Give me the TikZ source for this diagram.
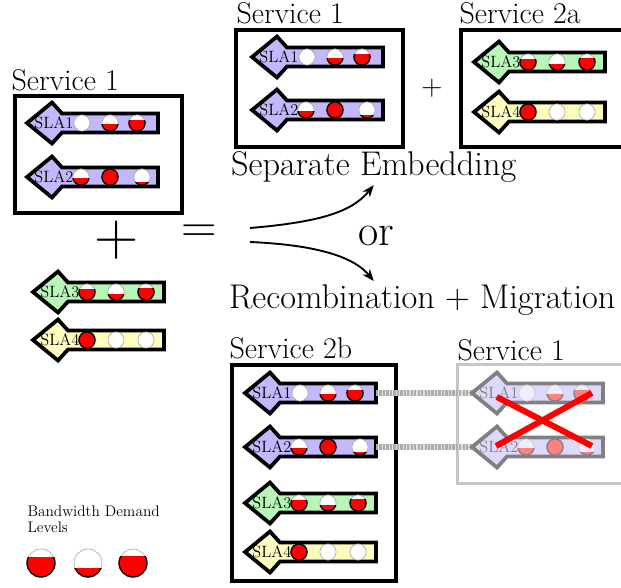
\documentclass[tikz,border=0pt]{standalone}
\usepackage{fontspec}
\usetikzlibrary{arrows.meta}

\definecolor{slapurple}{RGB}{196,184,252}
\definecolor{slagreen}{RGB}{184,246,184}
\definecolor{slayellow}{RGB}{255,253,190}
\colorlet{bwred}{red}
\colorlet{bwedge}{black}
\colorlet{bwgray}{black!35}
\colorlet{bwwhite}{white}
\colorlet{slaedge}{black}
\colorlet{slatext}{black}

\tikzset{every picture/.style={line width=0.75pt}}
\tikzset{
  service/.style={draw=black, line width=2.5pt},
  svclabel/.style={anchor=base west, inner sep=0pt, font=\fontsize{22.5}{27}\selectfont},
  biglabel/.style={anchor=base west, inner sep=2pt, font=\fontsize{25.7}{30}\selectfont},
  slabody/.style={draw=slaedge, line width=2.8pt, line join=miter},
  slalabel/.style={inner sep=0pt, text=slatext, font=\fontsize{12.3}{14}\selectfont},
  flow/.style={line width=1.4pt, -{Stealth[length=9pt,width=7pt]}},
  migrate/.style={line width=4.5pt, draw=black!13},
  migratedash/.style={line width=4.5pt, draw=black!32, dash pattern=on 1.7pt off 0.9pt},
}

% bandwidth demand level: [radius]{x}{y}{filled fraction}
\newcommand{\bwlevel}[4][8.1]{%
  \fill[bwwhite] (#2,#3) circle[radius=#1];
  \draw[bwgray, line width=0.5pt] (#2,#3) circle[radius=#1];
  \ifdim #4pt>0pt
    \begin{scope}
      \clip (#2-#1-2,#3+#1-2*#1*#4) rectangle (#2+#1+2,#3+#1+2);
      \fill[bwred] (#2,#3) circle[radius=#1];
      \draw[bwedge, line width=1pt] (#2,#3) circle[radius=#1];
    \end{scope}
  \fi
}

% SLA arrow: {name}{tip x}{y}{fill}{label}{offset/fraction list macro}
\newcommand{\slarow}[6]{%
  \draw[slabody, fill=#4] (#2,#3) -- ++(25,-20.5) -- ++(10,11) -- ++(96,0) -- ++(0,19) -- ++(-96,0) -- ++(-10,11) -- cycle;
  \coordinate (#1-tip) at (#2,#3);
  \coordinate (#1-end) at (#2+131,#3);
  \node[slalabel] (#1-lbl) at (#2+27,#3) {#5};
  \foreach \dx/\f in #6 {\bwlevel{#2+\dx}{#3}{\f}}
}

\newcommand{\lvlone}{55/0,83/0.4,110/0.67}
\newcommand{\lvltwo}{54/0.4,83/1,115/0.15}
\newcommand{\lvlthree}{54/0.67,83/0.33,113/0.7}
\newcommand{\lvlfour}{54/1,83/0,113/0}

\begin{document}
\begin{tikzpicture}[x=0.75pt,y=0.75pt,yscale=-1,xscale=1]
    \useasboundingbox (0,0) rectangle (621,587);
    \clip (0,0) rectangle (621,587);

    %Shape: Rectangle [Service 1, left]
    \draw[service] (15,96) rectangle (182,213);
    %Shape: Rectangle [Service 1, top]
    \draw[service] (236,30) rectangle (403,147);
    %Shape: Rectangle [Service 2a]
    \draw[service] (461,30) rectangle (640,147);
    %Shape: Rectangle [Service 2b]
    \draw[service] (232,365) rectangle (396,581);
    %Shape: Rectangle [Service 1, old]
    \draw[line width=2.2pt, draw=black!22] (457.5,364.5) rectangle (640,483.5);

    % Text Node
    \node[svclabel] (lsvc) at (11,90) {Service 1};
    \node[svclabel] (tsvc) at (236,23) {Service 1};
    \node[svclabel] (asvc) at (459,23) {Service 2a};
    \node[svclabel] (bsvc) at (229,358) {Service 2b};
    \node[svclabel] (osvc) at (457,360) {Service 1};

    % SLAs on the left
    \slarow{l1}{27}{123}{slapurple}{SLA1}{\lvlone}
    \slarow{l2}{27}{177}{slapurple}{SLA2}{\lvltwo}
    \slarow{l3}{33}{292}{slagreen}{SLA3}{\lvlthree}
    \slarow{l4}{33}{340}{slayellow}{SLA4}{\lvlfour}

    % Separate Embedding
    \slarow{t1}{252}{57}{slapurple}{SLA1}{\lvlone}
    \slarow{t2}{252}{110}{slapurple}{SLA2}{\lvltwo}
    \slarow{a3}{474}{62}{slagreen}{SLA3}{\lvlthree}
    \slarow{a4}{474}{112}{slayellow}{SLA4}{\lvlfour}

    % Recombination
    \slarow{b1}{245}{393}{slapurple}{SLA1}{\lvlone}
    \slarow{b2}{245}{447}{slapurple}{SLA2}{\lvltwo}
    \slarow{b3}{245}{503}{slagreen}{SLA3}{\lvlthree}
    \slarow{b4}{245}{552}{slayellow}{SLA4}{\lvlfour}

    %Straight Lines [migration]
    \coordinate (o1-tip) at (472,393);
    \coordinate (o2-tip) at (472,447);
    \draw[migrate] (b1-end) -- (o1-tip);
    \draw[migratedash] (b1-end) -- (o1-tip);
    \draw[migrate] (b2-end) -- (o2-tip);
    \draw[migratedash] (b2-end) -- (o2-tip);

    % old placement, faded
    \begin{scope}
      \colorlet{slaedge}{black!50}
      \colorlet{slatext}{black!50}
      \colorlet{bwred}{red!50}
      \colorlet{bwedge}{black!50}
      \colorlet{bwgray}{black!20}
      \colorlet{bwwhite}{slapurple!25}
      \slarow{o1}{472}{393}{slapurple!55}{SLA1}{\lvlone}
      \slarow{o2}{472}{447}{slapurple!55}{SLA2}{\lvltwo}
    \end{scope}
    %Straight Lines [cross]
    \draw[red, line width=4.5pt] (497,397) -- (592,446);
    \draw[red, line width=4.5pt] (496,446) -- (592,393);

    % Text Node
    \node[font=\fontsize{22}{26}\selectfont, inner sep=0pt] (plus1) at (432,88) {+};
    \node[font=\fontsize{46}{50}\selectfont, inner sep=0pt] (plus2) at (117,240) {+};
    \node[font=\fontsize{37}{40}\selectfont, inner sep=0pt] (eq) at (199,234) {=};
    \node[anchor=base, font=\fontsize{33}{38}\selectfont, inner sep=0pt] (or) at (376,245) {or};
    \node[biglabel] (sep) at (228,175) {Separate Embedding};
    \node[biglabel] (rec) at (226,308) {Recombination + Migration};

    %Curve Lines
    \coordinate (fork-up) at (250,228);
    \coordinate (fork-down) at (250,242);
    \draw[flow] (fork-up) .. controls (320,222) and (352,212) .. (sep.south);
    \draw[flow] (fork-down) .. controls (320,245) and (355,258) .. (rec.north -| sep.south);

    % Legend
    \node[anchor=base west, inner sep=0pt, align=left, font=\fontsize{11.5}{11.5}\selectfont] (legend) at (27,532) {Bandwidth Demand\\Levels};
    \bwlevel[14]{41}{563}{0.68}
    \bwlevel[14]{88}{563}{0.32}
    \bwlevel[14]{133}{563}{0.72}

\end{tikzpicture}
\end{document}
